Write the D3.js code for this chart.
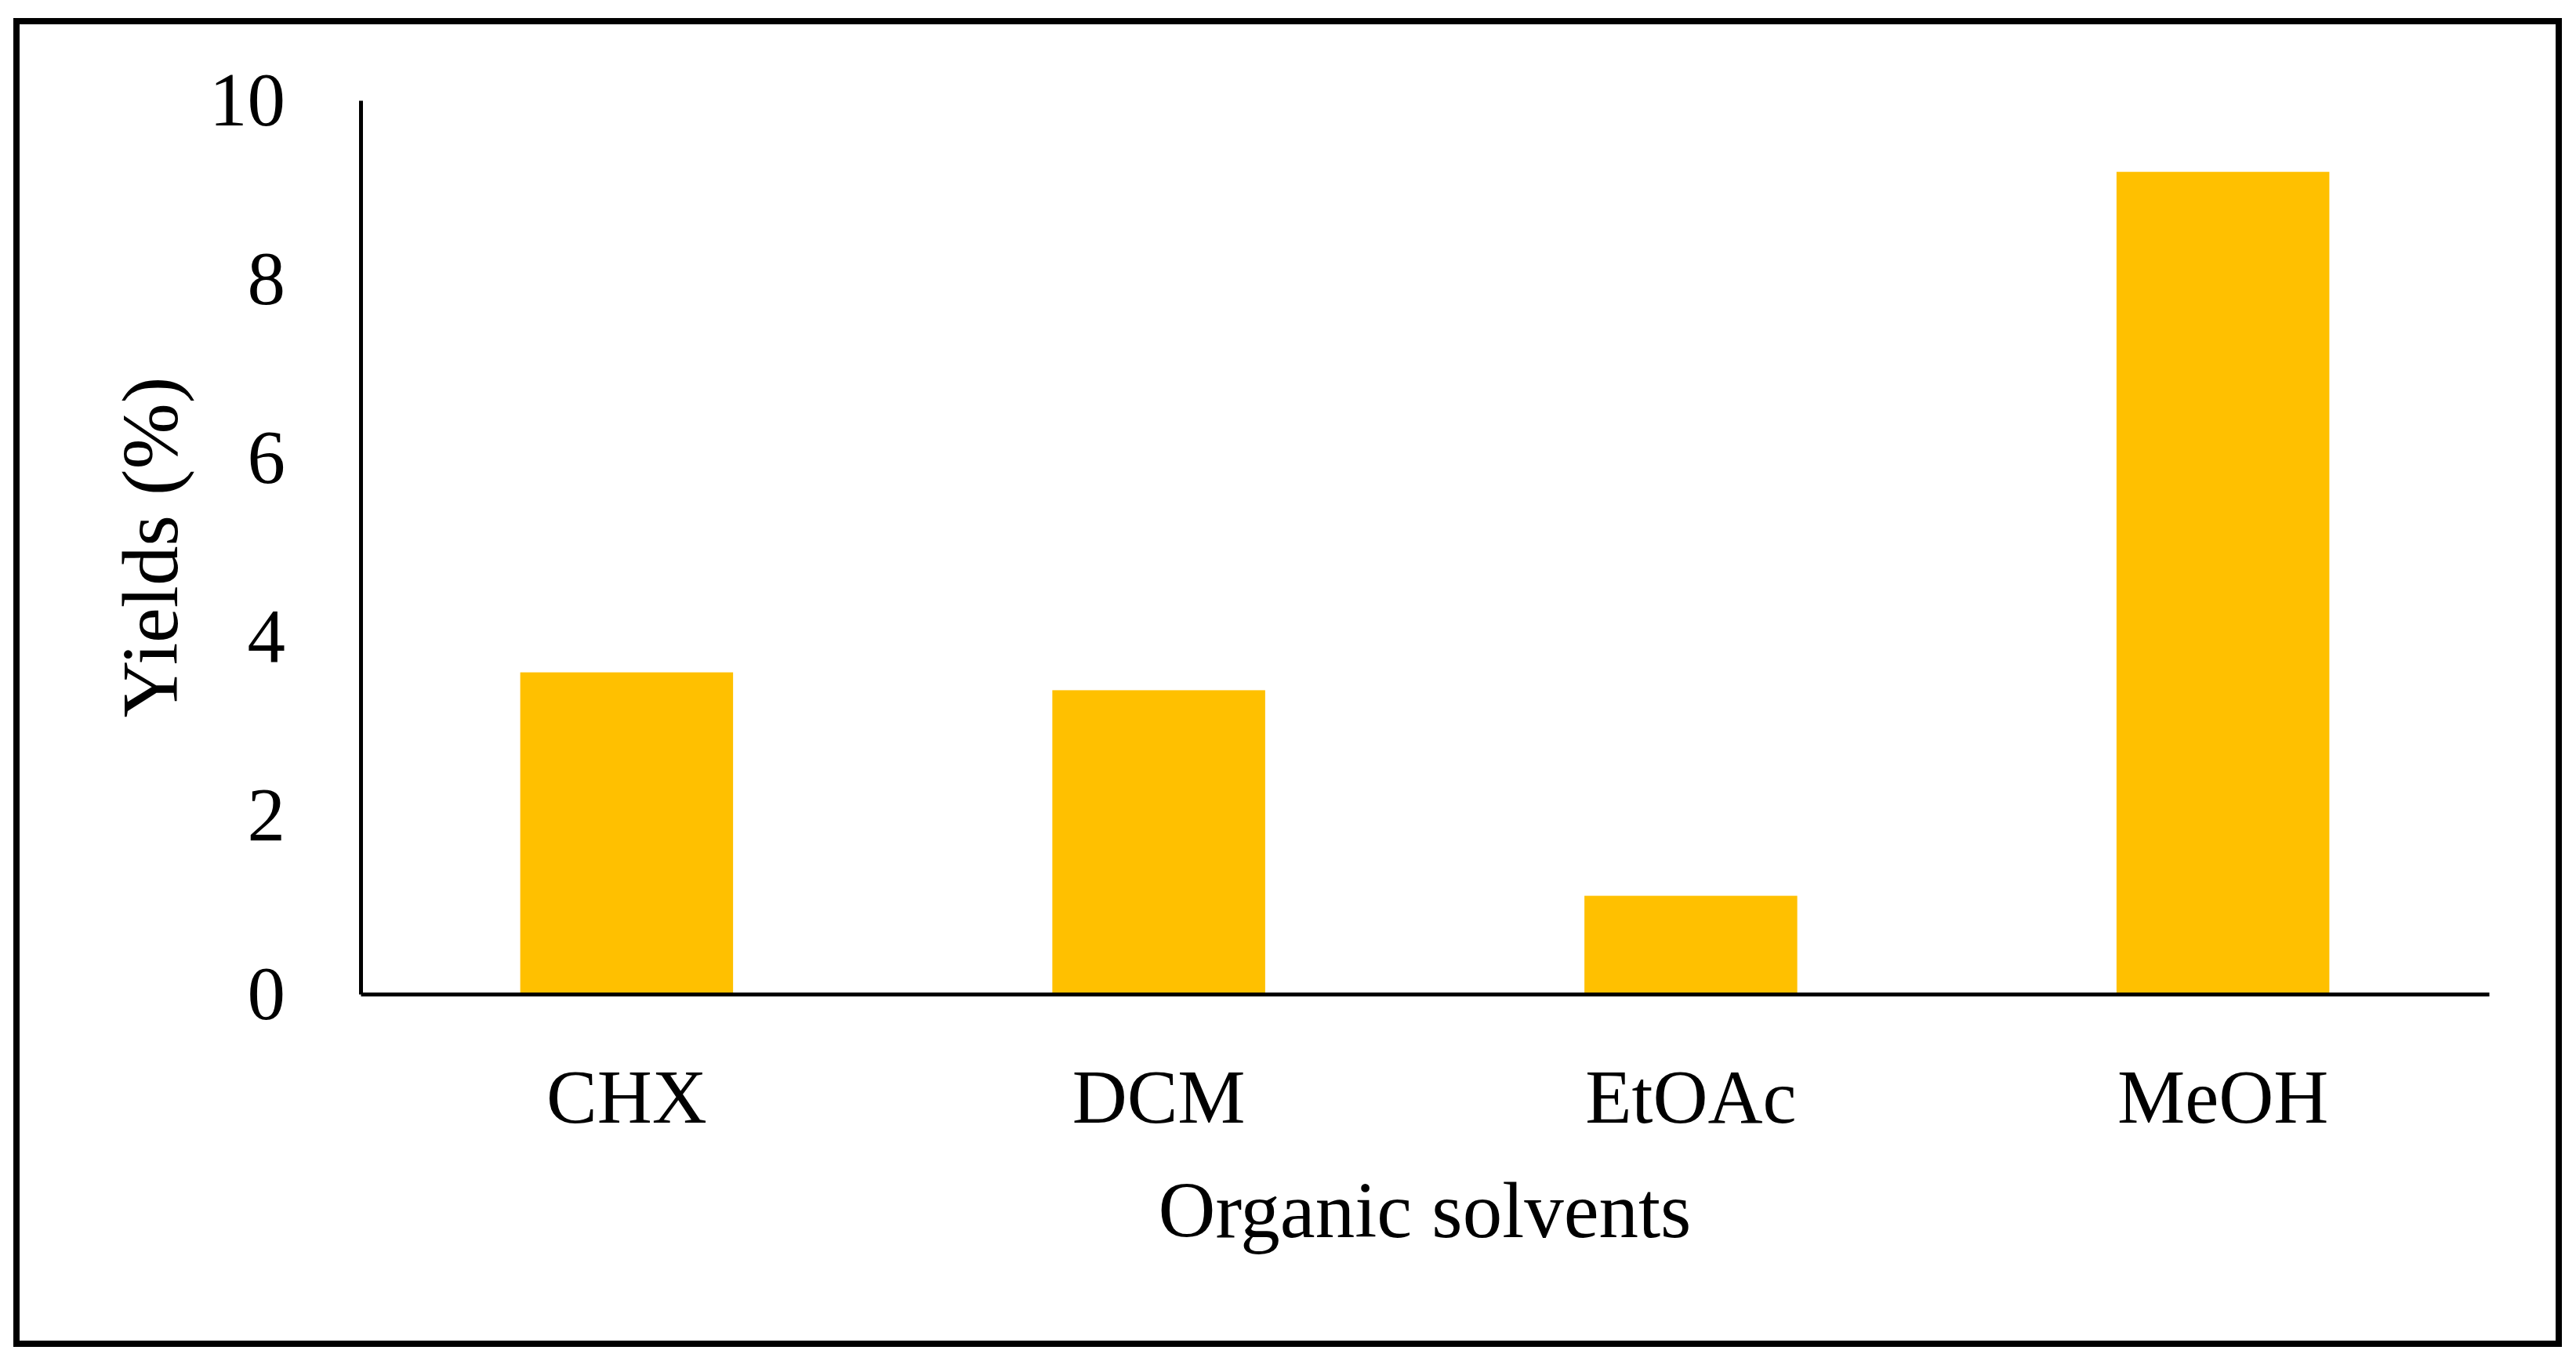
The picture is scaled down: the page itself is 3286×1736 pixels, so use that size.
<!DOCTYPE html>
<html>
<head>
<meta charset="utf-8">
<script src="https://cdn.jsdelivr.net/npm/d3@7"></script>
<style>
  body { margin: 0; background: #fff; }
  text { font-family: "Liberation Serif", "DejaVu Serif", serif; fill: #000; }
</style>
</head>
<body>
<svg id="chart" width="3286" height="1736"></svg>
<script>
var solvents = ["CHX", "DCM", "EtOAc", "MeOH"];
var yields = [3.6, 3.4, 1.1, 9.2];
var yTicks = [0, 2, 4, 6, 8, 10];

var svg = d3.select("#chart");
var margin = { top: 128, right: 111, bottom: 468, left: 460 };
var width = 3286 - margin.left - margin.right;
var height = 1736 - margin.top - margin.bottom;
var fontSize = 97;

// outer frame
svg.append("rect")
  .attr("x", 21)
  .attr("y", 27)
  .attr("width", 3243)
  .attr("height", 1687)
  .attr("fill", "none")
  .attr("stroke", "#000")
  .attr("stroke-width", 8);

var plot = svg.append("g")
  .attr("transform", translate(margin.left, margin.top));

var x = d3.scaleBand()
  .domain(solvents)
  .range([0, width])
  .paddingInner(0.6)
  .paddingOuter(0.3);

var y = d3.scaleLinear()
  .domain([0, 10])
  .range([height, 0]);

var data = solvents.map(function(s, i) { return { key: s, value: yields[i] }; });

plot.selectAll(".bar")
  .data(data)
  .enter()
  .append("rect")
  .attr("class", "bar")
  .attr("x", function(d) { return x(d.key); })
  .attr("width", x.bandwidth())
  .attr("y", function(d) { return y(d.value); })
  .attr("height", function(d) { return height - y(d.value); })
  .attr("fill", "#FFC000");

var yAxis = d3.axisLeft(y)
  .tickValues(yTicks)
  .tickSize(0)
  .tickPadding(96)
  .tickFormat(d3.format("d"));

var xAxis = d3.axisBottom(x)
  .tickSize(0)
  .tickPadding(95);

var gy = plot.append("g").attr("id", "y-axis").call(yAxis);
var gx = plot.append("g")
  .attr("id", "x-axis")
  .attr("transform", translate(0, height))
  .call(xAxis);

[gx, gy].forEach(function(g) {
  g.select(".domain").attr("stroke", "#000").attr("stroke-width", 5);
  g.selectAll("text")
    .attr("font-family", "Liberation Serif, serif")
    .attr("font-size", fontSize)
    .attr("fill", "#000");
});

// axis titles
svg.append("text")
  .attr("x", margin.left + width / 2)
  .attr("y", 1578)
  .attr("text-anchor", "middle")
  .attr("font-size", 101)
  .text("Organic solvents");

svg.append("text")
  .attr("transform", translate(226, margin.top + height / 2) + " rotate(-90)")
  .attr("text-anchor", "middle")
  .attr("font-size", 101)
  .text("Yields (%)");

function translate(x, y) {
  return "translate(" + x + "," + y + ")";
}
</script>
</body>
</html>
